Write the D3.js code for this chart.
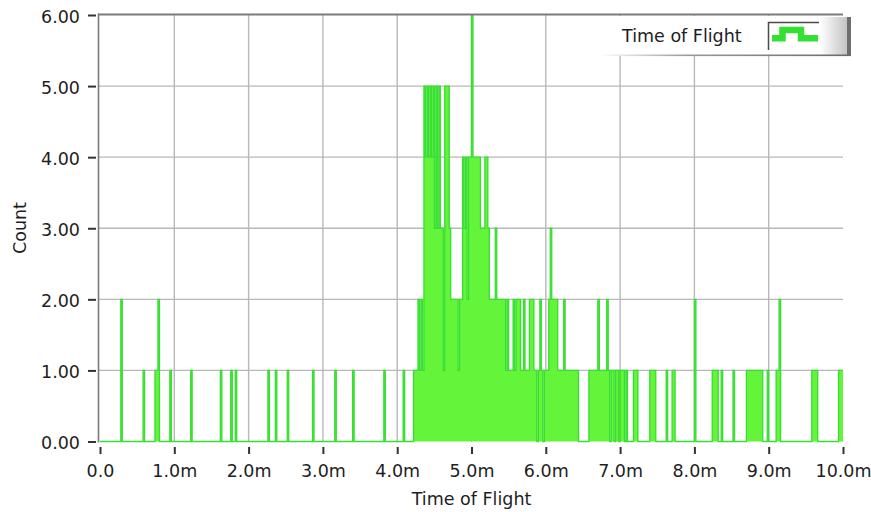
<!DOCTYPE html>
<html>
<head>
<meta charset="utf-8">
<script src="https://cdn.jsdelivr.net/npm/d3@7"></script>
<style>
  html, body { margin: 0; padding: 0; background: #fff; }
  svg { display: block; }
  text { font-family: "DejaVu Sans", Verdana, sans-serif; fill: #1e1e1e; }
</style>
</head>
<body>
<svg id="chart" width="871" height="512"></svg>
<script>
// ---- Data ----
// Histogram bins of 0.02 ms; only non-empty bins listed (bin start, ms).
const binWidthMs = 0.02;
const lowBinStarts = [0.28, 0.58, 0.74, 0.76, 0.78, 0.94, 1.22, 1.62, 1.76, 1.82, 2.26, 2.36, 2.52, 2.86, 3.16, 3.40, 3.82, 4.08];
const lowBinCounts = [2, 1, 1, 1, 2, 1, 1, 1, 1, 1, 1, 1, 1, 1, 1, 1, 1, 1];

const peakBinStarts = [
  4.22, 4.24, 4.26, 4.28, 4.30, 4.32, 4.34, 4.36, 4.38, 4.40, 4.42, 4.44, 4.46, 4.48, 4.50, 4.52, 4.54, 4.56, 4.58, 4.60,
  4.62, 4.64, 4.66, 4.68, 4.70, 4.72, 4.74, 4.76, 4.78, 4.80, 4.82, 4.84, 4.86, 4.88, 4.90, 4.92, 4.94, 4.96, 4.98, 5.00,
  5.02, 5.04, 5.06, 5.08, 5.10, 5.12, 5.14, 5.16, 5.18, 5.20, 5.22, 5.24, 5.26, 5.28, 5.30, 5.32, 5.34, 5.36, 5.38, 5.40,
  5.42, 5.44, 5.46, 5.48, 5.50, 5.52, 5.54, 5.56, 5.58, 5.60, 5.62, 5.64, 5.66, 5.68, 5.70, 5.72, 5.74, 5.76, 5.78, 5.80,
  5.82, 5.84, 5.86, 5.90, 5.92, 5.94, 5.98, 6.00, 6.02, 6.04, 6.06, 6.08, 6.10, 6.12, 6.14, 6.16, 6.18, 6.20, 6.22, 6.24,
  6.26, 6.28, 6.30, 6.32, 6.34, 6.36, 6.38, 6.40, 6.42
];
const peakBinCounts = [
  1, 1, 1, 2, 1, 2, 1, 5, 4, 5, 4, 5, 4, 5, 3, 5, 3, 5, 3, 3,
  1, 5, 5, 5, 3, 2, 2, 2, 2, 2, 1, 2, 2, 4, 3, 4, 2, 4, 4, 6,
  4, 4, 4, 4, 4, 3, 3, 3, 4, 4, 3, 2, 2, 2, 2, 3, 2, 2, 2, 2,
  2, 2, 1, 2, 1, 1, 1, 2, 1, 2, 2, 2, 1, 1, 2, 1, 1, 1, 2, 2,
  2, 1, 1, 1, 2, 1, 1, 1, 1, 2, 3, 2, 2, 2, 2, 1, 1, 1, 1, 2,
  1, 1, 1, 1, 1, 1, 1, 1, 1
];

const tailBinStarts = [
  6.58, 6.60, 6.62, 6.64, 6.66, 6.68, 6.70, 6.72, 6.74, 6.76, 6.78, 6.80, 6.82, 6.84, 6.88, 6.90, 6.94, 6.96, 7.00, 7.02, 7.04, 7.08,
  7.18, 7.20, 7.22, 7.40, 7.42, 7.44, 7.46, 7.62, 7.70, 7.72, 8.00, 8.24, 8.26, 8.28, 8.30, 8.36, 8.52,
  8.70, 8.72, 8.74, 8.76, 8.78, 8.80, 8.82, 8.84, 8.86, 8.88, 8.90, 8.98, 9.10, 9.12, 9.14,
  9.58, 9.60, 9.62, 9.64, 9.94, 9.96, 9.98
];
const tailBinCounts = [
  1, 1, 1, 1, 1, 1, 2, 1, 1, 1, 1, 1, 2, 1, 1, 1, 1, 1, 1, 1, 1, 1,
  1, 1, 1, 1, 1, 1, 1, 1, 1, 1, 2, 1, 1, 1, 1, 1, 1,
  1, 1, 1, 1, 1, 1, 1, 1, 1, 1, 1, 1, 1, 1, 2,
  1, 1, 1, 1, 1, 1, 1
];

const xTickValues = [0, 1, 2, 3, 4, 5, 6, 7, 8, 9, 10];
const xTickLabels = ["0.0", "1.0m", "2.0m", "3.0m", "4.0m", "5.0m", "6.0m", "7.0m", "8.0m", "9.0m", "10.0m"];
const yTickValues = [0, 1, 2, 3, 4, 5, 6];
const yTickLabels = ["0.00", "1.00", "2.00", "3.00", "4.00", "5.00", "6.00"];
const xTitle = "Time of Flight";
const yTitle = "Count";
const legendLabel = "Time of Flight";

// ---- Build dense histogram table from the lists ----
const nBins = Math.round(10 / binWidthMs);
const counts = new Array(nBins).fill(0);
function addBins(starts, cnts) {
  starts.forEach((s, i) => { counts[Math.round(s / binWidthMs)] = cnts[i]; });
}
addBins(lowBinStarts, lowBinCounts);
addBins(peakBinStarts, peakBinCounts);
addBins(tailBinStarts, tailBinCounts);
const hist = counts.map((c, i) => ({ t: i * binWidthMs, c }));
hist.push({ t: 10, c: counts[nBins - 1] });

// ---- Layout ----
const svg = d3.select("#chart");
const x = d3.scaleLinear().domain([0, 10]).range([100, 843]);
const y = d3.scaleLinear().domain([0, 6]).range([441.5, 15]);
const FS = 17.5;
const FONT = "DejaVu Sans, Verdana, sans-serif";

// Grid
const grid = svg.append("g");
grid.selectAll("line.v").data(xTickValues.filter(v => v > 0 && v < 10)).join("line")
  .attr("x1", d => x(d)).attr("x2", d => x(d))
  .attr("y1", y(6)).attr("y2", y(0))
  .attr("stroke", "#b8b8b8").attr("stroke-width", 1.4);
grid.selectAll("line.h").data(yTickValues.filter(v => v > 0 && v < 6)).join("line")
  .attr("x1", 98).attr("x2", x(10))
  .attr("y1", d => y(d)).attr("y2", d => y(d))
  .attr("stroke", "#b8b8b8").attr("stroke-width", 1.4);

// Histogram (step fill + outline)
const area = d3.area().curve(d3.curveStepAfter)
  .x(d => x(d.t)).y0(y(0)).y1(d => y(d.c));
const line = d3.line().curve(d3.curveStepAfter)
  .x(d => x(d.t)).y(d => y(d.c));
svg.append("path").datum(hist).attr("d", area).attr("fill", "#64f43a");
svg.append("path").datum(hist).attr("d", line)
  .attr("fill", "none").attr("stroke", "#36df30").attr("stroke-width", 1.3);

// Plot frame (left + top)
svg.append("line").attr("x1", 98.5).attr("x2", 98.5).attr("y1", 13.5).attr("y2", 442.5)
  .attr("stroke", "#7a7a7a").attr("stroke-width", 1.6);
svg.append("line").attr("x1", 98).attr("x2", x(10)).attr("y1", 14.5).attr("y2", 14.5)
  .attr("stroke", "#7c7c7c").attr("stroke-width", 2);

// Y axis
const yAxis = d3.axisLeft(y).tickValues(yTickValues)
  .tickFormat((d, i) => yTickLabels[i]).tickSize(8).tickPadding(8);
const gy = svg.append("g").attr("transform", "translate(96,0)").call(yAxis);
gy.select(".domain").remove();
gy.selectAll(".tick line").attr("stroke", "#333").attr("stroke-width", 2);
gy.selectAll(".tick text").attr("font-size", FS).attr("dy", "0.4em")
  .attr("font-family", FONT).attr("fill", "#1e1e1e");

// X axis
const xAxis = d3.axisBottom(x).tickValues(xTickValues)
  .tickFormat((d, i) => xTickLabels[i]).tickSize(7).tickPadding(11);
const gx = svg.append("g").attr("transform", "translate(0,447)").call(xAxis);
gx.select(".domain").remove();
gx.selectAll(".tick line").attr("stroke", "#333").attr("stroke-width", 2);
gx.selectAll(".tick text").attr("font-size", FS)
  .attr("font-family", FONT).attr("fill", "#1e1e1e");

// Axis titles
svg.append("text").attr("x", x(5)).attr("y", 505).attr("text-anchor", "middle")
  .attr("font-size", FS).text(xTitle);
svg.append("text").attr("transform", "translate(26,228) rotate(-90)")
  .attr("text-anchor", "middle").attr("font-size", FS).text(yTitle);

// Legend
const defs = svg.append("defs");
const g1 = defs.append("linearGradient").attr("id", "legShade").attr("x1", "0").attr("x2", "1");
g1.append("stop").attr("offset", "0").attr("stop-color", "#ffffff");
g1.append("stop").attr("offset", "1").attr("stop-color", "#c4c4c4");
const g2 = defs.append("linearGradient").attr("id", "legLine").attr("x1", "0").attr("x2", "1");
g2.append("stop").attr("offset", "0").attr("stop-color", "#ffffff");
g2.append("stop").attr("offset", "0.35").attr("stop-color", "#9a9a9a");
g2.append("stop").attr("offset", "1").attr("stop-color", "#6a6a6a");

const leg = svg.append("g");
leg.append("rect").attr("x", 600).attr("y", 16).attr("width", 248).attr("height", 39).attr("fill", "#fff");
leg.append("rect").attr("x", 820).attr("y", 17).attr("width", 27).attr("height", 38).attr("fill", "url(#legShade)");
leg.append("rect").attr("x", 847).attr("y", 17).attr("width", 4).attr("height", 38).attr("fill", "#6e6e6e");
leg.append("rect").attr("x", 600).attr("y", 54.5).attr("width", 251).attr("height", 1.6).attr("fill", "url(#legLine)");
leg.append("text").attr("x", 622).attr("y", 42).attr("font-size", FS).text(legendLabel);
leg.append("rect").attr("x", 768).attr("y", 22).attr("width", 51).attr("height", 28).attr("fill", "#fff");
leg.append("path").attr("d", "M768.5,50 V22.5 H819").attr("fill", "none").attr("stroke", "#4a4a4a").attr("stroke-width", 1.5);
leg.append("path").attr("d", "M772,38.3 H782.5 V30 H801 V38.3 H818")
  .attr("fill", "none").attr("stroke", "#33e033").attr("stroke-width", 6.5).attr("stroke-linejoin", "miter");
</script>
</body>
</html>
